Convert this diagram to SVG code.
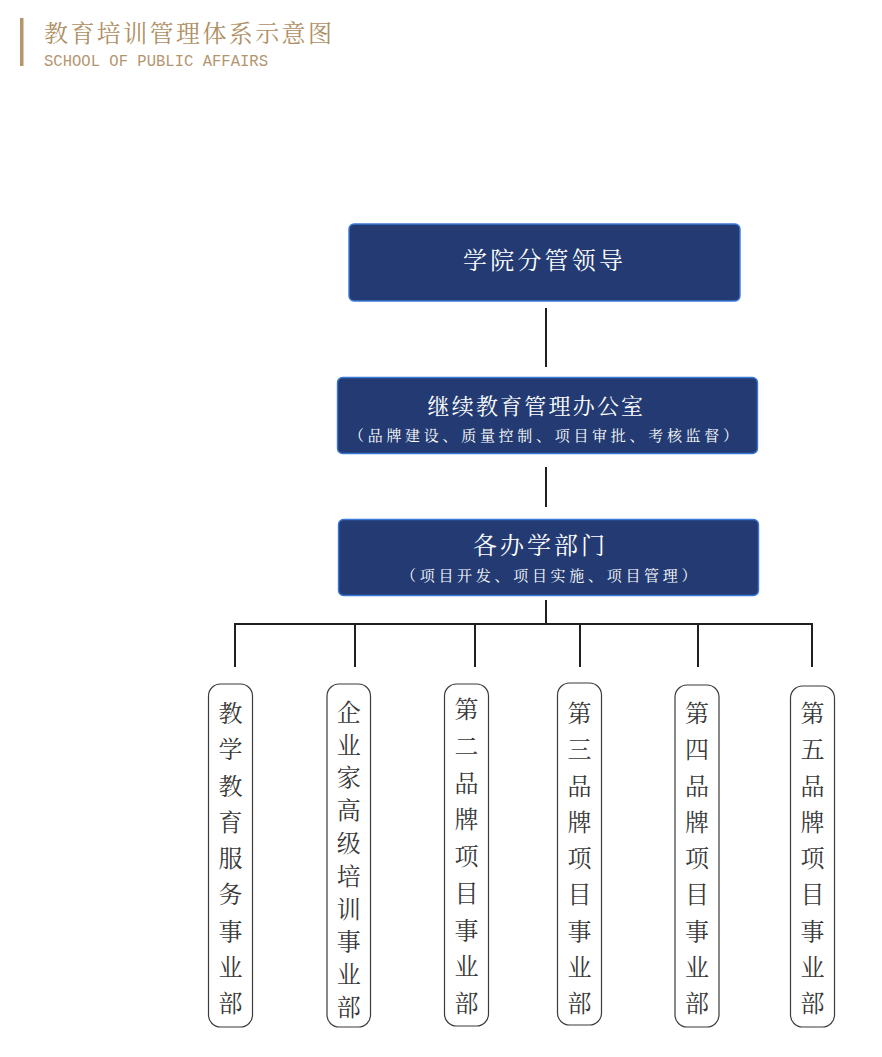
<svg xmlns="http://www.w3.org/2000/svg" width="882" height="1057" viewBox="0 0 882 1057">
<style>
.cjk{font-family:"Noto Serif CJK SC","Noto Sans CJK SC",sans-serif}
.box{fill:#233b72;stroke:#3a78d6;stroke-width:1.4}
.btxt{fill:#ffffff}
.pill{fill:#ffffff;stroke:#3b3b3b;stroke-width:1.2}
.ptxt{fill:#383838;font-size:24px;text-anchor:middle}
.conn{stroke:#231f20;stroke-width:2;fill:none}
</style>
<rect width="882" height="1057" fill="#ffffff"/>
<g id="header">
<rect x="20" y="18" width="3.5" height="48" fill="#b5956a"/>
<text class="cjk" x="44" y="41.5" font-size="24" letter-spacing="2.4" fill="#ae8f63">教育培训管理体系示意图</text>
<text x="44" y="66" font-family="'Liberation Mono',monospace" font-size="16.5" textLength="224" lengthAdjust="spacingAndGlyphs" fill="#b39670">SCHOOL OF PUBLIC AFFAIRS</text>
</g>
<g id="connectors">
<line class="conn" x1="546" y1="308" x2="546" y2="367"/>
<line class="conn" x1="546" y1="467" x2="546" y2="507"/>
<line class="conn" x1="546" y1="600" x2="546" y2="624"/>
<polyline class="conn" points="235,667 235,624 812,624 812,667"/>
<line class="conn" x1="355" y1="624" x2="355" y2="667"/>
<line class="conn" x1="475" y1="624" x2="475" y2="667"/>
<line class="conn" x1="580" y1="624" x2="580" y2="667"/>
<line class="conn" x1="698" y1="624" x2="698" y2="667"/>
</g>
<g id="leader">
<rect class="box" x="349" y="224" width="391" height="77" rx="5"/>
<text class="cjk btxt" x="463" y="268.5" font-size="24" letter-spacing="3.2">学院分管领导</text>
</g>
<g id="office">
<rect class="box" x="337.5" y="377.5" width="420" height="76" rx="5"/>
<text class="cjk btxt" x="427.5" y="413.5" font-size="22" letter-spacing="2.2">继续教育管理办公室</text>
<text class="cjk btxt" x="349" y="440.5" font-size="15" letter-spacing="3.7">（品牌建设、质量控制、项目审批、考核监督）</text>
</g>
<g id="departments">
<rect class="box" x="338.5" y="519.5" width="420" height="76" rx="5"/>
<text class="cjk btxt" x="473" y="553.5" font-size="24" letter-spacing="3">各办学部门</text>
<text class="cjk btxt" x="401" y="580.5" font-size="15" letter-spacing="3.7">（项目开发、项目实施、项目管理）</text>
</g>
<g id="unit1">
<rect class="pill" x="208.5" y="684" width="44" height="343" rx="12"/>
<text class="cjk ptxt"><tspan x="230.5" y="722">教</tspan><tspan x="230.5" y="758.25">学</tspan><tspan x="230.5" y="794.5">教</tspan><tspan x="230.5" y="830.75">育</tspan><tspan x="230.5" y="867">服</tspan><tspan x="230.5" y="903.25">务</tspan><tspan x="230.5" y="939.5">事</tspan><tspan x="230.5" y="975.75">业</tspan><tspan x="230.5" y="1012">部</tspan></text>
</g>
<g id="unit2">
<rect class="pill" x="327" y="684" width="43.5" height="343" rx="12"/>
<text class="cjk ptxt"><tspan x="348.7" y="720.7">企</tspan><tspan x="348.7" y="753.5">业</tspan><tspan x="348.7" y="786.3">家</tspan><tspan x="348.7" y="819.1">高</tspan><tspan x="348.7" y="851.9">级</tspan><tspan x="348.7" y="884.7">培</tspan><tspan x="348.7" y="917.5">训</tspan><tspan x="348.7" y="950.3">事</tspan><tspan x="348.7" y="983.1">业</tspan><tspan x="348.7" y="1015.9">部</tspan></text>
</g>
<g id="unit3">
<rect class="pill" x="444.5" y="684" width="44" height="342" rx="12"/>
<text class="cjk ptxt"><tspan x="466.5" y="718">第</tspan><tspan x="466.5" y="754.75">二</tspan><tspan x="466.5" y="791.5">品</tspan><tspan x="466.5" y="828.25">牌</tspan><tspan x="466.5" y="865">项</tspan><tspan x="466.5" y="901.75">目</tspan><tspan x="466.5" y="938.5">事</tspan><tspan x="466.5" y="975.25">业</tspan><tspan x="466.5" y="1012">部</tspan></text>
</g>
<g id="unit4">
<rect class="pill" x="557.5" y="683" width="44" height="342" rx="12"/>
<text class="cjk ptxt"><tspan x="579.5" y="722">第</tspan><tspan x="579.5" y="758.25">三</tspan><tspan x="579.5" y="794.5">品</tspan><tspan x="579.5" y="830.75">牌</tspan><tspan x="579.5" y="867">项</tspan><tspan x="579.5" y="903.25">目</tspan><tspan x="579.5" y="939.5">事</tspan><tspan x="579.5" y="975.75">业</tspan><tspan x="579.5" y="1012">部</tspan></text>
</g>
<g id="unit5">
<rect class="pill" x="675" y="685" width="44" height="342" rx="12"/>
<text class="cjk ptxt"><tspan x="697" y="722">第</tspan><tspan x="697" y="758.25">四</tspan><tspan x="697" y="794.5">品</tspan><tspan x="697" y="830.75">牌</tspan><tspan x="697" y="867">项</tspan><tspan x="697" y="903.25">目</tspan><tspan x="697" y="939.5">事</tspan><tspan x="697" y="975.75">业</tspan><tspan x="697" y="1012">部</tspan></text>
</g>
<g id="unit6">
<rect class="pill" x="790.5" y="686" width="44" height="341" rx="12"/>
<text class="cjk ptxt"><tspan x="812.5" y="722">第</tspan><tspan x="812.5" y="758.25">五</tspan><tspan x="812.5" y="794.5">品</tspan><tspan x="812.5" y="830.75">牌</tspan><tspan x="812.5" y="867">项</tspan><tspan x="812.5" y="903.25">目</tspan><tspan x="812.5" y="939.5">事</tspan><tspan x="812.5" y="975.75">业</tspan><tspan x="812.5" y="1012">部</tspan></text>
</g>
</svg>
